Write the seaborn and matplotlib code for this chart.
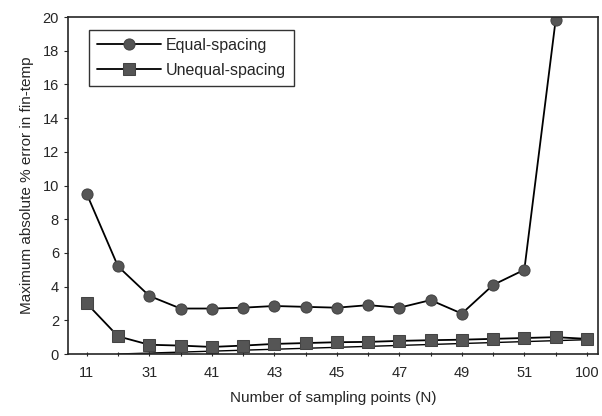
import numpy as np
import matplotlib
matplotlib.use("Agg")
import matplotlib.pyplot as plt
import pandas as pd
import seaborn as sns

# sampling points N (categories, evenly placed on the axis)
n_points = ["11", "21", "31", "36", "41", "42", "43", "44", "45",
            "46", "47", "48", "49", "50", "51", "52", "100"]
tick_labels = ["11", "", "31", "", "41", "", "43", "", "45",
               "", "47", "", "49", "", "51", "", "100"]

equal_spacing = [9.5, 5.2, 3.45, 2.7, 2.7, 2.75, 2.85, 2.8, 2.75,
                 2.9, 2.75, 3.2, 2.4, 4.1, 5.0, 19.8]
unequal_spacing = [3.0, 1.05, 0.55, 0.5, 0.42, 0.5, 0.6, 0.65, 0.7,
                   0.72, 0.78, 0.82, 0.85, 0.9, 0.95, 1.0, 0.9]
# thin line under the squares (no markers)
trend_n = ["21", "100"]
trend_vals = [0.0, 0.85]

sns.set_style("ticks")
plt.rcParams["font.family"] = ["Liberation Sans", "DejaVu Sans"]

pos = {c: i for i, c in enumerate(n_points)}
df_eq = pd.DataFrame({"x": [pos[c] for c in n_points[:len(equal_spacing)]], "y": equal_spacing})
df_un = pd.DataFrame({"x": [pos[c] for c in n_points], "y": unequal_spacing})
df_tr = pd.DataFrame({"x": [pos[c] for c in trend_n], "y": trend_vals})

fig = plt.figure(figsize=(6.02, 4.16), dpi=100)
ax = fig.add_axes([0.113, 0.149, 0.88, 0.81])

sns.lineplot(data=df_tr, x="x", y="y", ax=ax, color="black", lw=1.0)
sns.lineplot(data=df_eq, x="x", y="y", ax=ax, color="black", lw=1.3,
             marker="o", markersize=8, markerfacecolor="#555555",
             markeredgecolor="#444444", label="Equal-spacing")
sns.lineplot(data=df_un, x="x", y="y", ax=ax, color="black", lw=1.3,
             marker="s", markersize=8, markerfacecolor="#555555",
             markeredgecolor="#444444", label="Unequal-spacing")

ax.set_xlim(-0.6, 16.35)
ax.set_ylim(0, 20)
ax.set_yticks(np.arange(0, 21, 2))
ax.set_xticks(range(len(n_points)))
ax.set_xticklabels(tick_labels, fontsize=10.5)
ax.tick_params(axis="y", labelsize=10.5, length=3, direction="out")
ax.tick_params(axis="x", length=3, direction="inout", pad=7)
for s in ax.spines.values():
    s.set_linewidth(1.2)

ax.set_xlabel("Number of sampling points (N)", fontsize=11, labelpad=8)
ax.set_ylabel("Maximum absolute % error in fin-temp", fontsize=11, labelpad=6)

leg = ax.legend(loc="upper left", fontsize=11.5, frameon=True, fancybox=False,
                edgecolor="black", borderpad=0.5, handlelength=4.0,
                labelspacing=0.6, handletextpad=0.3,
                bbox_to_anchor=(0.025, 0.985))
leg.get_frame().set_linewidth(1.0)

fig.savefig("out.png", dpi=100)
